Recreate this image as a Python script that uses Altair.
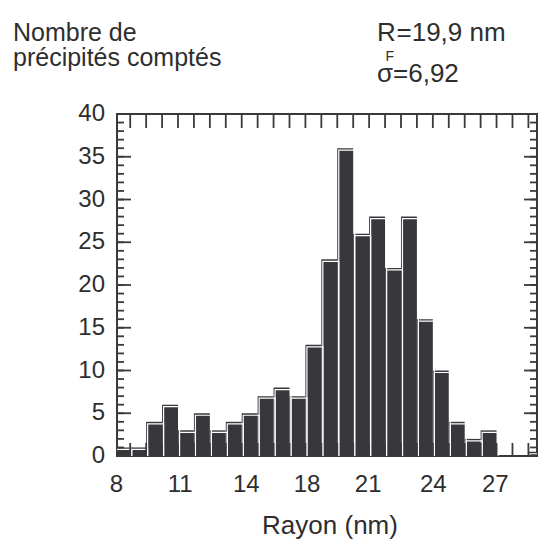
import altair as alt
import pandas as pd

# ---- data ----
bin_start = list(range(27))
counts = [1, 1, 4, 6, 3, 5, 3, 4, 5, 7, 8, 7, 13, 23, 36, 26, 28, 22, 28, 16, 10, 4, 2, 3, 0, 0, 0.5]
x_domain = [0.17, 26.54]
x_tick_pos = [0.13, 4.14, 8.29, 12.10, 15.94, 20.03, 23.92]
x_tick_labels = ["8", "11", "14", "18", "21", "24", "27"]
y_major = [0, 5, 10, 15, 20, 25, 30, 35, 40]
y_minor = list(range(0, 41))
bin_edges = list(range(1, 27))

W, H = 420, 342
FONT = "Liberation Sans"
DARK = "#38373b"
TXT = "#2e2e2e"
TICK = "#3a3a3a"

xs = alt.Scale(domain=x_domain, nice=False, zero=False)
ys = alt.Scale(domain=[0, 40], nice=False)

bars_df = pd.DataFrame({"x": bin_start, "x2": [b + 1 for b in bin_start], "n": counts})

bars = alt.Chart(bars_df).mark_bar(color=DARK, clip=True).encode(
    x=alt.X("x:Q", scale=xs, axis=None),
    x2="x2:Q",
    y=alt.Y("n:Q", scale=ys, axis=None),
    y2=alt.datum(0),
)

outline = alt.Chart(bars_df).mark_bar(
    fillOpacity=0, stroke="white", strokeWidth=1.2,
    xOffset=1.5, x2Offset=1.5, yOffset=2, y2Offset=2, clip=True
).encode(
    x=alt.X("x:Q", scale=xs, axis=None),
    x2="x2:Q",
    y=alt.Y("n:Q", scale=ys, axis=None),
    y2=alt.datum(0),
)

minor_df = pd.DataFrame({"v": y_minor})
major_df = pd.DataFrame({"v": y_major})
edge_df = pd.DataFrame({"e": bin_edges})

def yrule(df, x1, x2):
    return alt.Chart(df).mark_rule(color=TICK, strokeWidth=1.8).encode(
        y=alt.Y("v:Q", scale=ys, axis=None), x=alt.value(x1), x2=alt.value(x2))

def xrule(df, y1, y2):
    return alt.Chart(df).mark_rule(color=TICK, strokeWidth=1.8, clip=True).encode(
        x=alt.X("e:Q", scale=xs, axis=None), y=alt.value(y1), y2=alt.value(y2))

ticks = [
    yrule(minor_df, 0, 7), yrule(major_df, 0, 14),
    yrule(minor_df, W, W - 7), yrule(major_df, W, W - 13),
    xrule(edge_df, 0, 14), xrule(edge_df, H, H - 13),
]

xlab_df = pd.DataFrame({"p": x_tick_pos, "t": x_tick_labels})
xlabels = alt.Chart(xlab_df).mark_text(
    font=FONT, fontSize=24, color=TXT, align="center", baseline="alphabetic"
).encode(x=alt.X("p:Q", scale=xs, axis=None), y=alt.value(H + 36), text="t:N")

ylab_df = pd.DataFrame({"v": y_major, "t": [str(v) for v in y_major]})
ylabels = alt.Chart(ylab_df).mark_text(
    font=FONT, fontSize=24, color=TXT, align="right", baseline="middle"
).encode(y=alt.Y("v:Q", scale=ys, axis=None), x=alt.value(-12), text="t:N")

one = pd.DataFrame({"k": [0]})

def label(txt, x, y, size=26, align="left"):
    return alt.Chart(one).mark_text(
        text=txt, font=FONT, fontSize=size, color=TXT, align=align, baseline="alphabetic"
    ).encode(x=alt.value(x), y=alt.value(y))

texts = [
    label("Nombre de", -104, -73, size=25),
    label("précipités comptés", -104, -48, size=25),
    label("R", 260, -73),
    label("F", 268.5, -53, size=14),
    label("=19,9 nm", 279.5, -73),
    label("σ=6,92", 260, -32),
    label("Rayon (nm)", 213, H + 78, size=26, align="center"),
]

chart = alt.layer(bars, outline, *ticks, xlabels, ylabels, *texts).properties(
    width=W, height=H,
    autosize="none",
    padding={"left": 109, "top": 106, "right": 1, "bottom": 84},
).configure_view(stroke=TICK, strokeWidth=2)

chart.save("out.html", embed_options={"renderer": "svg", "actions": False})
